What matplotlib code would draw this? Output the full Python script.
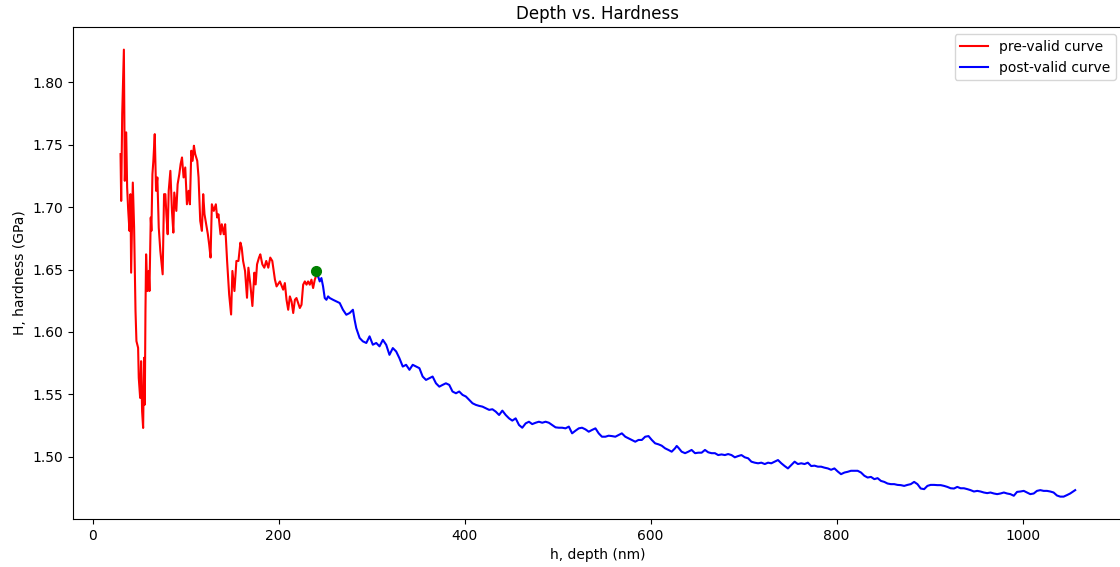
import matplotlib
matplotlib.use("Agg")
import matplotlib.pyplot as plt

# indentation depth (nm) and hardness (GPa) before the validity point
pre_depth = [30.0, 30.7, 31.8, 33.6, 34.6, 36.1, 37.1, 38.2, 39.6, 40.7, 41.4, 43.2, 44.6,
             46.1, 47.1, 48.9, 49.6, 51.1, 52.1, 53.2, 54.3, 55.3, 56.1, 56.8, 57.5, 58.9,
             60.3, 61.1, 62.5, 63.2, 64.3, 65.3, 66.8, 68.2, 69.6, 71.1, 72.8, 75.3, 76.8,
             78.2, 79.3, 80.7, 81.8, 83.6, 85.3, 86.8, 87.8, 90.0, 91.4, 93.2, 94.6, 96.1,
             97.8, 99.6, 101.4, 103.2, 104.6, 106.1, 107.5, 108.9, 110.3, 112.5, 113.9,
             115.7, 117.5, 118.9, 120.3, 121.8, 123.9, 125.3, 126.8, 128.2, 130.3, 132.5,
             133.9, 135.3, 137.5, 138.9, 141.0, 142.5, 144.6, 146.8, 148.9, 150.3, 152.5,
             154.6, 156.8, 158.9, 160.3, 161.8, 163.9, 166.0, 167.5, 169.6, 171.8, 173.9,
             175.3, 176.8, 178.9, 180.3, 182.5, 184.6, 186.7, 188.9, 191.0, 193.2, 196.0,
             197.8, 201.4, 204.9, 206.7, 208.5, 210.3, 212.1, 213.9, 215.7, 217.5, 219.2,
             221.0, 222.8, 224.6, 226.4, 228.2, 230.0, 231.7, 233.5, 235.3, 237.1, 238.9,
             240.7, 242.5]
pre_hardness = [1.7425, 1.705, 1.7746, 1.8262, 1.7211, 1.7599, 1.7157, 1.6983, 1.681, 1.7104,
                1.6475, 1.7197, 1.6836, 1.6168, 1.5927, 1.5873, 1.5632, 1.5472, 1.5766,
                1.5365, 1.5231, 1.5793, 1.5418, 1.6168, 1.6622, 1.6328, 1.6489, 1.6328,
                1.6917, 1.681, 1.7264, 1.7371, 1.7585, 1.7131, 1.7238, 1.6836, 1.6649,
                1.6462, 1.7104, 1.7104, 1.6943, 1.6783, 1.7131, 1.7291, 1.697, 1.6796,
                1.7117, 1.697, 1.7184, 1.7264, 1.7345, 1.7398, 1.7238, 1.7318, 1.7023,
                1.7131, 1.7023, 1.7452, 1.7371, 1.7492, 1.7425, 1.7371, 1.7238, 1.689,
                1.681, 1.7104, 1.6943, 1.6876, 1.6783, 1.6702, 1.6596, 1.7023, 1.697,
                1.7023, 1.6917, 1.6943, 1.6783, 1.6863, 1.6783, 1.6863, 1.6569, 1.6301,
                1.614, 1.6489, 1.6328, 1.6569, 1.6569, 1.6716, 1.6676, 1.6569, 1.6489,
                1.6274, 1.6515, 1.6381, 1.6208, 1.6475, 1.6381, 1.6542, 1.6596, 1.6622,
                1.6542, 1.6515, 1.6569, 1.6515, 1.6596, 1.6569, 1.6421, 1.6365, 1.6405,
                1.6339, 1.6392, 1.6258, 1.6178, 1.6285, 1.6245, 1.6152, 1.6258, 1.6272,
                1.6232, 1.6192, 1.6218, 1.6379, 1.6405, 1.6379, 1.6405, 1.6379, 1.6419,
                1.6352, 1.6419, 1.6459, 1.6445]

# after the validity point
post_depth = [242.5, 244.2, 246.0, 247.8, 249.6, 251.4, 253.2, 255.0, 258.5, 262.1, 265.7,
              269.2, 272.8, 276.4, 279.9, 281.7, 283.5, 287.1, 290.6, 294.3, 297.8, 301.3,
              305.0, 308.5, 312.1, 315.7, 319.2, 322.8, 326.4, 329.9, 333.5, 337.1, 340.7,
              344.2, 347.8, 351.4, 354.9, 358.5, 362.1, 365.6, 369.2, 372.8, 376.3, 379.9,
              383.5, 387.0, 390.7, 394.2, 397.8, 401.4, 404.9, 408.5, 412.1, 415.6, 419.2,
              422.8, 426.4, 429.9, 433.5, 437.1, 440.6, 444.2, 447.8, 451.3, 454.9, 458.5,
              462.0, 465.7, 469.2, 472.7, 476.4, 479.9, 483.5, 487.1, 490.6, 494.2, 497.8,
              501.3, 504.9, 508.5, 512.1, 515.6, 519.2, 522.8, 526.3, 529.9, 533.5, 537.0,
              540.7, 544.2, 547.7, 551.4, 554.9, 558.4, 562.1, 565.6, 569.1, 572.8, 576.3,
              579.8, 583.5, 587.0, 590.6, 594.2, 597.8, 601.3, 604.9, 608.5, 612.0, 615.6,
              619.2, 622.7, 626.3, 628.1, 629.9, 633.4, 637.1, 640.6, 644.1, 647.8, 651.3,
              654.9, 658.5, 662.0, 665.6, 669.2, 672.7, 676.3, 679.9, 683.4, 687.0, 690.6,
              694.2, 697.7, 701.3, 704.9, 708.4, 712.0, 715.6, 719.1, 722.8, 726.3, 729.8,
              733.5, 737.0, 740.6, 744.2, 747.7, 751.3, 754.9, 758.4, 762.0, 765.6, 769.1,
              772.7, 776.3, 779.9, 783.4, 787.0, 790.6, 794.1, 797.7, 801.3, 804.8, 808.5,
              812.0, 815.5, 819.2, 822.7, 826.3, 829.9, 833.4, 837.0, 840.6, 844.1, 847.7,
              851.3, 854.8, 858.4, 862.0, 865.5, 869.1, 872.7, 876.3, 879.8, 883.4, 887.0,
              890.5, 894.2, 897.7, 901.2, 904.9, 908.4, 912.0, 915.6, 919.1, 922.7, 926.3,
              929.8, 933.4, 937.0, 940.6, 944.1, 947.7, 951.3, 954.8, 958.4, 962.0, 965.5,
              969.2, 972.7, 976.2, 979.9, 983.4, 986.9, 990.6, 994.1, 997.6, 1001.3, 1004.8,
              1008.3, 1012.0, 1015.5, 1019.1, 1022.7, 1026.3, 1029.8, 1033.4, 1037.0, 1040.5,
              1044.2, 1047.7, 1051.2, 1056.6]
post_hardness = [1.6445, 1.6405, 1.6432, 1.6365, 1.6272, 1.6258, 1.6285, 1.6272, 1.6258,
                 1.6245, 1.6232, 1.6178, 1.6138, 1.6152, 1.6178, 1.6098, 1.6031, 1.5952,
                 1.5925, 1.5912, 1.5965, 1.5898, 1.5912, 1.5885, 1.5937, 1.5897, 1.5817,
                 1.5871, 1.5844, 1.579, 1.5723, 1.5737, 1.5697, 1.5737, 1.5723, 1.571,
                 1.5643, 1.5616, 1.563, 1.5643, 1.5589, 1.5562, 1.5576, 1.5589, 1.5576,
                 1.5523, 1.5509, 1.5523, 1.5496, 1.5483, 1.5456, 1.5429, 1.5416, 1.5408,
                 1.5402, 1.5389, 1.5376, 1.5381, 1.5362, 1.5335, 1.537, 1.5335, 1.5308,
                 1.529, 1.5308, 1.5255, 1.5233, 1.5268, 1.5281, 1.5262, 1.5273, 1.5281,
                 1.5273, 1.5281, 1.5273, 1.5255, 1.5236, 1.5233, 1.5233, 1.5228, 1.5242,
                 1.5188, 1.5209, 1.5228, 1.5233, 1.522, 1.5201, 1.5215, 1.5228, 1.5188,
                 1.5161, 1.5161, 1.5169, 1.5166, 1.5161, 1.5175, 1.5188, 1.5161, 1.5148,
                 1.5135, 1.5121, 1.5135, 1.5135, 1.5161, 1.5166, 1.5135, 1.5108, 1.510,
                 1.5089, 1.5068, 1.5055, 1.5041, 1.5068, 1.5087, 1.5073, 1.5041, 1.5029,
                 1.5041, 1.5055, 1.5029, 1.5033, 1.5033, 1.5055, 1.5036, 1.5029, 1.5029,
                 1.5014, 1.5019, 1.5014, 1.5022, 1.5014, 1.4996, 1.5006, 1.5014, 1.4996,
                 1.4988, 1.4961, 1.4953, 1.4948, 1.4953, 1.4942, 1.4953, 1.4948, 1.4961,
                 1.4974, 1.4948, 1.4926, 1.4907, 1.4934, 1.4961, 1.4942, 1.4948, 1.4942,
                 1.4953, 1.4926, 1.4929, 1.4921, 1.4921, 1.4913, 1.4907, 1.4896, 1.4907,
                 1.4882, 1.4861, 1.4874, 1.488, 1.4888, 1.4888, 1.4888, 1.4874, 1.4848,
                 1.4834, 1.4839, 1.4821, 1.4829, 1.4807, 1.4799, 1.4786, 1.4781, 1.4781,
                 1.4775, 1.4773, 1.4767, 1.4775, 1.4781, 1.4799, 1.4781, 1.4746, 1.4741,
                 1.4767, 1.4775, 1.4775, 1.4773, 1.4773, 1.4767, 1.4759, 1.4748, 1.4746,
                 1.4759, 1.4748, 1.4748, 1.4741, 1.4733, 1.4722, 1.4727, 1.4722, 1.4714,
                 1.4709, 1.4714, 1.4706, 1.4701, 1.4706, 1.4714, 1.4706, 1.4701, 1.4688,
                 1.4719, 1.4722, 1.4727, 1.4714, 1.4701, 1.4706, 1.4727, 1.4733, 1.4727,
                 1.4727, 1.4722, 1.4714, 1.4690, 1.4681, 1.4681, 1.4693, 1.4706, 1.4733]

# point where the curve becomes valid
valid_depth = 240.0
valid_hardness = 1.649

fig, ax = plt.subplots(figsize=(11.2, 5.67), dpi=100)
# the right edge of the axes runs just past the figure edge
fig.subplots_adjust(left=0.065, right=1.0026, bottom=0.0847, top=0.9519)

ax.plot(pre_depth, pre_hardness, color='red', linewidth=1.5, label='pre-valid curve')
ax.plot(post_depth, post_hardness, color='blue', linewidth=1.5, label='post-valid curve')
ax.plot(valid_depth, valid_hardness, 'o', color='green', markersize=7)

ax.set_title("Depth vs. Hardness")
ax.set_xlabel("h, depth (nm)")
ax.set_ylabel("H, hardness (GPa)")
ax.legend(loc='upper right')

plt.savefig("out.png")
